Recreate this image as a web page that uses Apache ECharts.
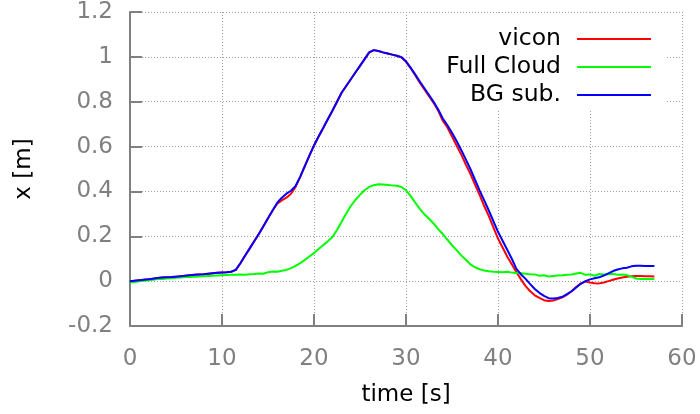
<!DOCTYPE html>
<html>
<head>
<meta charset="utf-8">
<script src="https://cdn.jsdelivr.net/npm/echarts@6/dist/echarts.min.js"></script>
<style>html,body{margin:0;padding:0;background:#fff}#c{width:700px;height:414px}</style>
</head>
<body>
<div id="c"></div>
<script>
var time = [0,0.5,1,1.5,2,2.5,3,3.5,4,4.5,5,5.5,6,6.5,7,7.5,8,8.5,9,9.5,10,10.5,11,11.5,12,12.5,13,13.5,14,14.5,15,15.5,16,16.5,17,17.5,18,18.5,19,19.5,20,20.5,21,21.5,22,22.5,23,23.5,24,24.5,25,25.5,26,26.5,27,27.5,28,28.5,29,29.5,30,30.5,31,31.5,32,32.5,33,33.5,34,34.5,35,35.5,36,36.5,37,37.5,38,38.5,39,39.5,40,40.5,41,41.5,42,42.5,43,43.5,44,44.5,45,45.5,46,46.5,47,47.5,48,48.5,49,49.5,50,50.5,51,51.5,52,52.5,53,53.5,54,54.5,55,55.5,56,56.5,57];
var vicon = [0,0.002,0.004,0.006,0.008,0.011,0.014,0.016,0.017,0.018,0.020,0.022,0.024,0.026,0.028,0.030,0.031,0.033,0.035,0.037,0.039,0.040,0.042,0.05,0.08,0.113,0.145,0.178,0.21,0.245,0.28,0.315,0.345,0.36,0.372,0.39,0.42,0.465,0.513,0.56,0.605,0.645,0.683,0.722,0.76,0.80,0.84,0.87,0.90,0.93,0.96,0.99,1.02,1.03,1.026,1.02,1.015,1.01,1.005,0.998,0.978,0.95,0.918,0.885,0.855,0.825,0.795,0.76,0.715,0.685,0.645,0.605,0.565,0.52,0.478,0.43,0.385,0.335,0.29,0.24,0.19,0.15,0.11,0.075,0.04,0.008,-0.022,-0.045,-0.063,-0.075,-0.085,-0.089,-0.086,-0.08,-0.072,-0.06,-0.045,-0.026,-0.01,-0.002,-0.006,-0.009,-0.01,-0.006,0.0,0.006,0.012,0.016,0.02,0.022,0.023,0.023,0.022,0.022,0.021];
var fullCloud = [-0.006,-0.004,-0.001,0.002,0.004,0.006,0.009,0.01,0.012,0.013,0.015,0.016,0.018,0.019,0.02,0.021,0.022,0.023,0.024,0.025,0.026,0.027,0.028,0.029,0.03,0.028,0.031,0.032,0.034,0.033,0.04,0.043,0.042,0.046,0.05,0.058,0.068,0.08,0.095,0.11,0.125,0.143,0.16,0.178,0.197,0.228,0.265,0.302,0.335,0.362,0.385,0.405,0.42,0.428,0.432,0.431,0.429,0.427,0.425,0.42,0.405,0.38,0.35,0.322,0.298,0.278,0.257,0.232,0.21,0.185,0.16,0.138,0.115,0.095,0.075,0.062,0.053,0.047,0.044,0.042,0.041,0.04,0.042,0.038,0.036,0.035,0.033,0.031,0.03,0.024,0.026,0.021,0.023,0.025,0.026,0.028,0.03,0.034,0.037,0.028,0.03,0.024,0.032,0.03,0.031,0.033,0.028,0.03,0.027,0.02,0.012,0.01,0.01,0.01,0.01];
var bgSub = [0,0.002,0.004,0.006,0.008,0.011,0.014,0.016,0.017,0.018,0.020,0.022,0.024,0.026,0.028,0.030,0.031,0.033,0.035,0.037,0.039,0.040,0.042,0.05,0.08,0.113,0.145,0.178,0.21,0.245,0.28,0.315,0.35,0.372,0.39,0.403,0.425,0.465,0.513,0.56,0.605,0.645,0.683,0.722,0.76,0.80,0.84,0.87,0.90,0.93,0.96,0.99,1.02,1.03,1.026,1.02,1.015,1.01,1.005,0.998,0.98,0.952,0.922,0.89,0.86,0.83,0.80,0.765,0.725,0.695,0.662,0.625,0.585,0.543,0.5,0.452,0.405,0.36,0.315,0.267,0.22,0.18,0.14,0.1,0.055,0.03,0.01,-0.013,-0.035,-0.052,-0.066,-0.076,-0.077,-0.075,-0.07,-0.058,-0.045,-0.028,-0.012,0.0,0.008,0.013,0.017,0.025,0.035,0.045,0.052,0.057,0.06,0.066,0.069,0.069,0.068,0.068,0.068];
var seriesNames = ['vicon','Full Cloud','BG sub.'];
var seriesColors = ['#ff0000','#00ff00','#0000ff'];
var xTicks = {min:0,max:60,interval:10};
var yTicks = {min:-0.2,max:1.2,interval:0.2};

function pairs(xs, ys){ return xs.map(function(x,i){ return [x, ys[i]]; }); }
var allData = [vicon, fullCloud, bgSub];

var FONT = 'DejaVu Sans';
var chart = echarts.init(document.getElementById('c'), null, {renderer:'canvas'});
chart.setOption({
  animation:false,
  backgroundColor:'#fff',
  grid:{left:130,right:18,top:12,bottom:88,containLabel:false},
  legend:{
    orient:'vertical', align:'right', right:35, top:13,
    padding:[12,14,0,36], backgroundColor:'#fff', z:1,
    icon:'rect', itemWidth:74, itemHeight:2, itemGap:0,
    textStyle:{fontFamily:FONT,fontSize:23.5,color:'#000',lineHeight:28,padding:[0,11,0,0]},
    data:seriesNames
  },
  xAxis:{
    type:'value', min:xTicks.min, max:xTicks.max, interval:xTicks.interval,
    name:'time [s]', nameLocation:'middle', nameGap:58,
    nameTextStyle:{fontFamily:FONT,fontSize:23,color:'#000'},
    axisLine:{show:true,onZero:false,lineStyle:{color:'#808080',width:2}},
    axisTick:{show:true,inside:true,length:12,lineStyle:{color:'#808080',width:2}},
    axisLabel:{fontFamily:FONT,fontSize:23,color:'#808080',margin:22},
    splitLine:{show:true,lineStyle:{color:'#a0a0a0',width:1,type:[1,2]}}
  },
  yAxis:{
    type:'value', min:yTicks.min, max:yTicks.max, interval:yTicks.interval,
    name:'x [m]', nameLocation:'middle', nameGap:94,
    nameTextStyle:{fontFamily:FONT,fontSize:23,color:'#000'},
    axisLine:{show:true,onZero:false,lineStyle:{color:'#808080',width:2}},
    axisTick:{show:true,inside:true,length:12,lineStyle:{color:'#808080',width:2}},
    axisLabel:{fontFamily:FONT,fontSize:23,color:'#808080',margin:17,
      formatter:function(v){ return String(Math.round(v*10)/10); }},
    splitLine:{show:true,lineStyle:{color:'#a0a0a0',width:1,type:[1,2]}}
  },
  series: seriesNames.map(function(n,i){
    return {name:n,type:'line',data:pairs(time, allData[i]),symbol:'none',z:2,
      lineStyle:{color:seriesColors[i],width:2},itemStyle:{color:seriesColors[i]}};
  })
});
</script>
</body>
</html>
